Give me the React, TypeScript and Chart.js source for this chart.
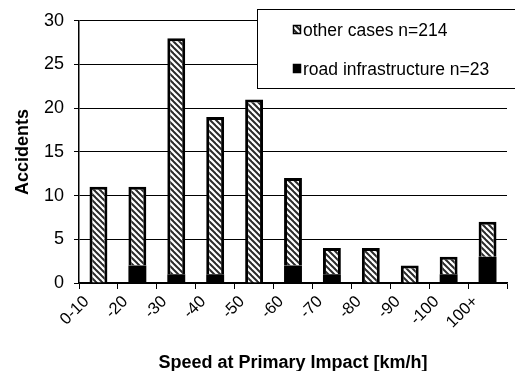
import React, { useEffect, useRef } from "react";
import { Chart, registerables } from "chart.js";

Chart.register(...registerables);

const categories = ["0-10", "-20", "-30", "-40", "-50", "-60", "-70", "-80", "-90", "-100", "100+"];
const totals = [11, 11, 28, 19, 21, 12, 4, 4, 2, 3, 7];
const roadInfra = [0, 2, 1, 1, 0, 2, 1, 0, 0, 1, 3];
const otherCases = totals.map((t, i) => t - roadInfra[i]);
const labelOther = "other cases n=214";
const labelRoad = "road infrastructure n=23";
const yTicks = [0, 5, 10, 15, 20, 25, 30];

function makeHatch(): CanvasPattern | string {
  const s = 6;
  const c = document.createElement("canvas");
  c.width = s;
  c.height = s;
  const g = c.getContext("2d");
  if (!g) return "#999";
  g.fillStyle = "#ffffff";
  g.fillRect(0, 0, s, s);
  g.strokeStyle = "#2a2a2a";
  g.lineWidth = 2;
  for (let k = -1; k <= 1; k++) {
    g.beginPath();
    g.moveTo(-1, k * s - 1);
    g.lineTo(s + 1, s + k * s + 1);
    g.stroke();
  }
  const p = g.createPattern(c, "repeat");
  return p || "#999";
}

export default function App() {
  const ref = useRef<HTMLCanvasElement>(null);
  useEffect(() => {
    if (!ref.current) return;
    const hatch = makeHatch();
    const legendPlugin = {
      id: "boxLegend",
      afterDraw(chart: any) {
        const ctx = chart.ctx;
        ctx.save();
        ctx.fillStyle = "#ffffff";
        ctx.strokeStyle = "#000000";
        ctx.lineWidth = 1;
        ctx.fillRect(257.5, 9.5, 270, 79);
        ctx.strokeRect(257.5, 9.5, 270, 79);
        const items = [
          { text: labelOther, fill: hatch, y: 30 },
          { text: labelRoad, fill: "#000000", y: 69 },
        ];
        ctx.font = "17.5px 'Liberation Sans', Arial, sans-serif";
        ctx.textBaseline = "middle";
        ctx.textAlign = "left";
        for (const it of items) {
          ctx.fillStyle = it.fill as any;
          ctx.fillRect(293.5, it.y - 4.5, 7, 8);
          ctx.strokeStyle = "#000";
          ctx.lineWidth = 1.5;
          ctx.strokeRect(293.5, it.y - 4.5, 7, 8);
          ctx.fillStyle = "#000";
          ctx.fillText(it.text, 303, it.y + 1);
        }
        ctx.restore();
      },
    };
    const chart = new Chart(ref.current, {
      type: "bar",
      data: {
        labels: categories,
        datasets: [
          {
            label: labelRoad,
            data: roadInfra,
            backgroundColor: "#000000",
            borderColor: "#000000",
            borderWidth: 0,
          },
          {
            label: labelOther,
            data: otherCases,
            backgroundColor: hatch as any,
            borderColor: "#000000",
            borderWidth: 3,
            borderSkipped: "start",
          },
        ],
      },
      options: {
        responsive: false,
        animation: false,
        layout: { padding: { top: 17, right: 8, left: 0, bottom: 0 } },
        plugins: { legend: { display: false }, tooltip: { enabled: false } },
        datasets: { bar: { categoryPercentage: 1, barPercentage: 0.46 } },
        scales: {
          x: {
            stacked: true,
            offset: true,
            grid: {
              display: true,
              drawOnChartArea: false,
              drawTicks: true,
              tickLength: 6,
              color: "#000",
              offset: true,
            },
            border: { color: "#000", width: 1.5 },
            ticks: {
              color: "#000",
              font: { family: "'Liberation Sans', Arial, sans-serif", size: 16.5 },
              maxRotation: 45,
              minRotation: 45,
              autoSkip: false,
              padding: 3,
              labelOffset: -12,
            },
            title: {
              display: true,
              text: "Speed at Primary Impact [km/h]",
              color: "#000",
              font: { family: "'Liberation Sans', Arial, sans-serif", size: 18, weight: "bold" },
              padding: { top: 0, bottom: 0 },
            },
            afterFit(scale: any) {
              scale.height = 88;
            },
          },
          y: {
            stacked: true,
            min: 0,
            max: 30,
            afterBuildTicks(scale: any) {
              scale.ticks = yTicks.map((v) => ({ value: v }));
            },
            grid: { color: "#000", lineWidth: 1, tickLength: 5, drawTicks: true },
            border: { color: "#000", width: 1.5 },
            ticks: {
              color: "#000",
              font: { family: "'Liberation Sans', Arial, sans-serif", size: 18 },
              padding: 10,
            },
            title: {
              display: true,
              text: "Accidents",
              color: "#000",
              font: { family: "'Liberation Sans', Arial, sans-serif", size: 18, weight: "bold" },
              padding: { top: 12, bottom: 0 },
            },
            afterFit(scale: any) {
              scale.width = 79;
            },
          },
        },
      },
      plugins: [
        legendPlugin,
        {
          id: "titleShift",
          beforeDraw(chart: any) {
            chart.scales.x.options.title.padding = { top: 0, bottom: -3 };
          },
        },
      ],
    });
    return () => chart.destroy();
  }, []);
  return (
    <div style={{ position: "fixed", left: 0, top: 0, width: 515, height: 371, background: "#fff" }}>
      <canvas ref={ref} width={515} height={371} />
    </div>
  );
}
